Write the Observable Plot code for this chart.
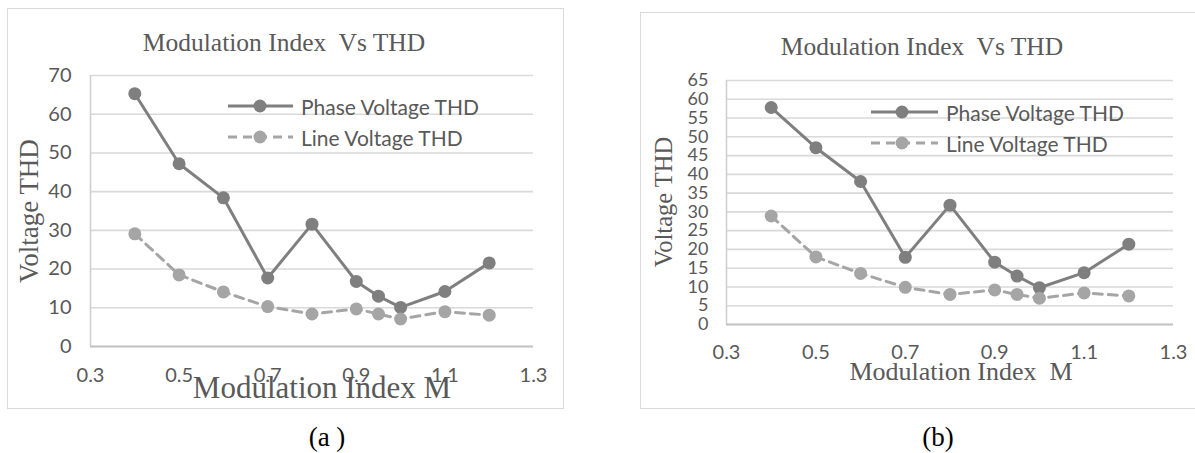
<!DOCTYPE html>
<html>
<head>
<meta charset="utf-8">
<script src="https://cdn.jsdelivr.net/npm/d3@7"></script>
<script src="https://cdn.jsdelivr.net/npm/@observablehq/plot@0.6"></script>
<style>
  html, body { margin: 0; padding: 0; background: #fff; }
  #page { position: relative; width: 1195px; height: 453px; overflow: hidden; background: #fff; }
  .frame { position: absolute; border: 1.5px solid #d9d9d9; box-sizing: border-box; }
  .abs { position: absolute; white-space: pre; line-height: 1; }
  .title { font-family: "Liberation Serif", serif; color: #595959; transform: translate(-50%, -50%); }
  .ylab { font-family: "Liberation Serif", serif; color: #595959; transform: translate(-50%, -50%) rotate(-90deg); }
  .cap { font-family: "Liberation Serif", serif; color: #000; transform: translate(-50%, -50%); }
  .leg { font-family: Lato, sans-serif; color: #595959; font-size: 21px; transform: translateY(-50%); }
</style>
</head>
<body>
<div id="page"></div>
<script>
// ---- data ----
const mIndex = [0.4, 0.5, 0.6, 0.7, 0.8, 0.9, 0.95, 1.0, 1.1, 1.2];
const phaseA = [65.3, 47.2, 38.4, 17.7, 31.6, 16.8, 13.0, 10.1, 14.2, 21.6];
const lineA  = [29.1, 18.5, 14.1, 10.3, 8.4, 9.7, 8.4, 7.1, 9.0, 8.1];
const phaseB = [57.8, 47.1, 38.1, 17.9, 31.8, 16.6, 12.9, 9.8, 13.8, 21.4];
const lineB  = [28.9, 18.0, 13.6, 9.9, 8.0, 9.2, 8.0, 7.0, 8.4, 7.6];
const xTicks = [0.3, 0.5, 0.7, 0.9, 1.1, 1.3];
const yTicksA = [0, 10, 20, 30, 40, 50, 60, 70];
const yTicksB = [0, 5, 10, 15, 20, 25, 30, 35, 40, 45, 50, 55, 60, 65];
const seriesNames = ["Phase Voltage THD", "Line Voltage THD"];
const chartTitle = "Modulation Index  Vs THD";
const xTitle = "Modulation Index M";
const xTitleB = "Modulation Index  M";
const yTitle = "Voltage THD";

const PHASE_COLOR = "#7f7f7f";
const LINE_COLOR = "#a5a5a5";

const page = document.getElementById("page");

function rows(vals) { return mIndex.map((m, i) => ({m, v: vals[i]})); }

function add(cls, text, left, top, size) {
  const d = document.createElement("div");
  d.className = "abs " + cls;
  d.textContent = text;
  d.style.left = left + "px";
  d.style.top = top + "px";
  if (size) d.style.fontSize = size + "px";
  page.appendChild(d);
  return d;
}

function frame(l, t, w, h) {
  const d = document.createElement("div");
  d.className = "frame";
  Object.assign(d.style, {left: l + "px", top: t + "px", width: w + "px", height: h + "px"});
  page.appendChild(d);
}

function chart(cfg) {
  const svg = Plot.plot({
    width: cfg.width, height: cfg.height,
    marginLeft: cfg.ml, marginRight: cfg.mr, marginTop: cfg.mt, marginBottom: cfg.mb,
    x: {domain: [xTicks[0], xTicks[xTicks.length - 1]]},
    y: {domain: [cfg.yTicks[0], cfg.yTicks[cfg.yTicks.length - 1]]},
    style: {fontFamily: "Lato, sans-serif", color: "#595959", background: "transparent", overflow: "visible"},
    marks: [
      Plot.gridY(cfg.yTicks, {stroke: "#d9d9d9", strokeOpacity: 1, strokeWidth: 1.6}),
      Plot.ruleX([xTicks[0]], {stroke: "#d0d0d0", strokeWidth: 1.6}),
      Plot.ruleY([cfg.yTicks[0]], {stroke: "#c4c4c4", strokeWidth: 1.8}),
      Plot.axisY(cfg.yTicks, {tickSize: 0, tickPadding: cfg.yPad, label: null, fontSize: cfg.yFont, fill: "#595959"}),
      Plot.axisX(xTicks, {tickSize: 0, tickPadding: cfg.xPad, label: null, fontSize: cfg.xFont, fill: "#595959",
        tickFormat: d => d.toFixed(1)}),
      Plot.line(rows(cfg.phase), {x: "m", y: "v", stroke: PHASE_COLOR, strokeWidth: 3}),
      Plot.dot(rows(cfg.phase), {x: "m", y: "v", r: 6.5, fill: PHASE_COLOR, stroke: "none"}),
      Plot.line(rows(cfg.line), {x: "m", y: "v", stroke: LINE_COLOR, strokeWidth: 3, strokeDasharray: "9,6"}),
      Plot.dot(rows(cfg.line), {x: "m", y: "v", r: 6.5, fill: LINE_COLOR, stroke: "none"})
    ]
  });
  svg.style.position = "absolute";
  svg.style.left = cfg.left + "px";
  svg.style.top = cfg.top + "px";
  page.appendChild(svg);
}

function legend(x0, x1, xm, y1, y2) {
  const ns = "http://www.w3.org/2000/svg";
  const s = document.createElementNS(ns, "svg");
  s.setAttribute("width", 1195); s.setAttribute("height", 453);
  Object.assign(s.style, {position: "absolute", left: "0px", top: "0px"});
  const items = [[y1, PHASE_COLOR, null], [y2, LINE_COLOR, "9,6"]];
  for (const [y, c, dash] of items) {
    const l = document.createElementNS(ns, "line");
    l.setAttribute("x1", x0); l.setAttribute("x2", x1); l.setAttribute("y1", y); l.setAttribute("y2", y);
    l.setAttribute("stroke", c); l.setAttribute("stroke-width", 3);
    if (dash) l.setAttribute("stroke-dasharray", dash);
    s.appendChild(l);
    const ci = document.createElementNS(ns, "circle");
    ci.setAttribute("cx", xm); ci.setAttribute("cy", y); ci.setAttribute("r", 6.5); ci.setAttribute("fill", c);
    s.appendChild(ci);
  }
  page.appendChild(s);
}

// ---- panel (a) ----
frame(7, 8, 557, 401);
chart({left: 0, top: 60, width: 565, height: 340, ml: 90, mr: 32, mt: 15, mb: 54,
  yTicks: yTicksA, phase: phaseA, line: lineA, yFont: 20, xFont: 20, xPad: 21, yPad: 19});
add("title", chartTitle, 284, 43, 25.5);
add("ylab", yTitle, 29, 211, 27);
add("title", xTitle, 322, 387, 31);
legend(228, 293, 260, 106, 137);
add("leg", seriesNames[0], 301, 106);
add("leg", seriesNames[1], 301, 137);
add("cap", "(a )", 327, 437, 27);

// ---- panel (b) ----
frame(640, 12, 600, 397);
chart({left: 600, top: 60, width: 595, height: 320, ml: 126, mr: 22, mt: 20, mb: 56,
  yTicks: yTicksB, phase: phaseB, line: lineB, yFont: 18, xFont: 20, xPad: 20, yPad: 18});
add("title", chartTitle, 922, 47, 25.5);
add("ylab", yTitle, 664, 202, 24.5);
add("title", xTitleB, 961, 372, 26);
legend(871, 938, 902, 112, 143);
add("leg", seriesNames[0], 946, 112);
add("leg", seriesNames[1], 946, 143);
add("cap", "(b)", 938, 437, 27);
</script>
</body>
</html>
